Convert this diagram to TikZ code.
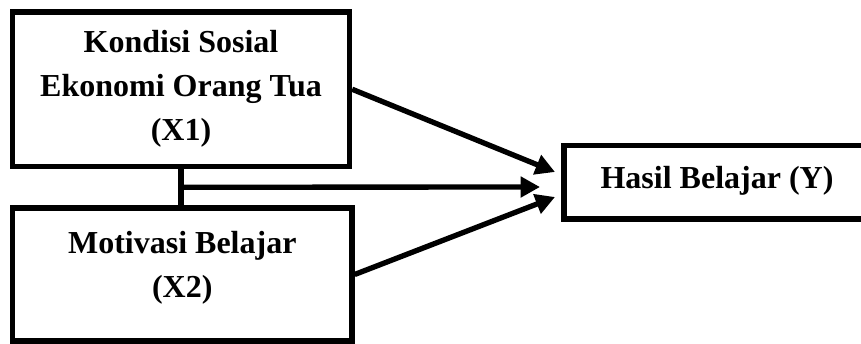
\documentclass[tikz,border=0pt]{standalone}
\usepackage{fontspec}
\setmainfont{Liberation Serif}
\usetikzlibrary{arrows.meta,calc}
\tikzset{
  box/.style={draw, line width=4pt, rectangle, inner sep=0pt},
  lbl/.style={align=center, font=\bfseries\fontsize{24}{33}\selectfont, inner sep=0pt},
  link/.style={line width=4pt},
  arr/.style={line width=4pt, -{Triangle[length=14.5pt,width=15pt]}}
}
\begin{document}
\begin{tikzpicture}[x=0.75pt,y=-0.75pt]
\useasboundingbox (0,0) rectangle (861,343);
% boxes
\node[box, minimum width=252.75pt, minimum height=115.9pt] (x1) at (181,89.25) {};
\node[box, minimum width=254.6pt, minimum height=99.75pt] (x2) at (182.25,274.5) {};
\node[box, minimum width=229.5pt, minimum height=55.1pt] (y) at (717,182.25) {};
% texts
\node[lbl] (x1t) at (x1.center) {Kondisi Sosial\\Ekonomi Orang Tua\\(X1)};
\node[lbl] (x2t) at ($(x2.center)+(0,-7)$) {Motivasi Belajar\\(X2)};
\node[lbl] (yt) at ($(y.center)+(0,-1)$) {Hasil Belajar (Y)};
% arrow ends
\coordinate (j) at ($(x1.south)!0.5!(x1.south |- x2.north)$);
\coordinate (t1) at (555,172);
\coordinate (t2) at (540,187);
\coordinate (t3) at (555,197);
% connectors
\draw[link] (x1.south) -- (x1.south |- x2.north);
\draw[arr] (j) -- (t2);
\draw[arr] (x1.east) -- (t1);
\draw[arr] (x2.east) -- (t3);
\end{tikzpicture}
\end{document}
